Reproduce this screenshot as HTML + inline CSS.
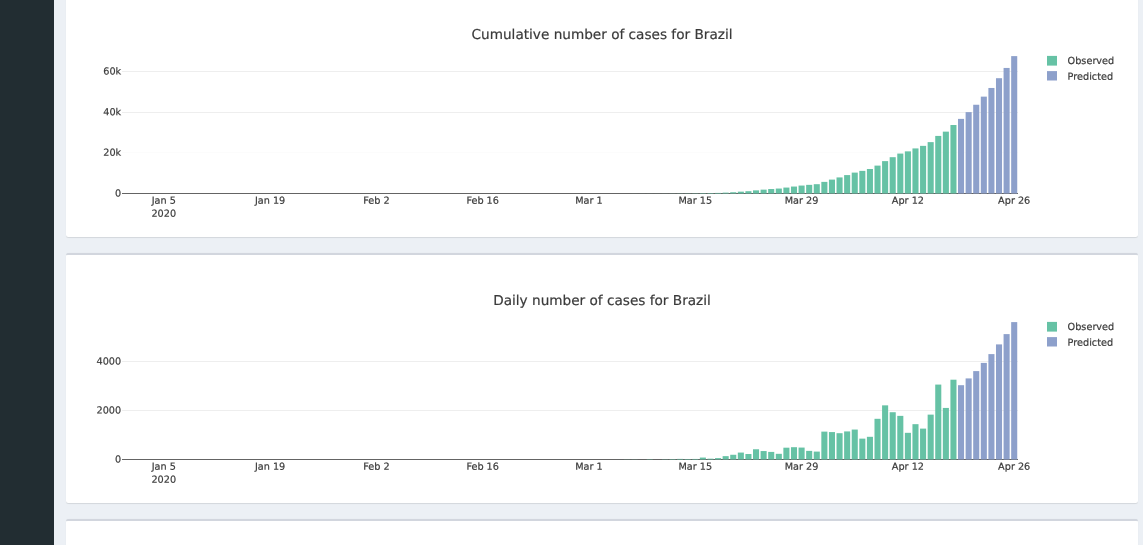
<!DOCTYPE html>
<html lang="en">
<head>
<meta charset="utf-8">
<title>Covid-19 forecast - Brazil</title>
<style>
html,body{margin:0;padding:0;}
body{width:1143px;height:545px;overflow:hidden;background:#ecf0f5;position:relative;
font-family:"DejaVu Sans","Liberation Sans",sans-serif;}
.sidebar{position:absolute;left:0;top:0;width:54px;height:545px;background:#222d32;}
.box{position:absolute;left:66px;width:1072.3px;height:248px;background:#fff;
border-top:2px solid #d2d6de;border-radius:2.5px;box-shadow:0 0.83px 0.83px rgba(0,0,0,0.1);}
svg{position:absolute;left:0;top:0;}
.tk{font-family:"DejaVu Sans","Liberation Sans",sans-serif;font-size:9.7px;fill:#3a3a3a;stroke:#3a3a3a;stroke-width:0.2px;}
.tt{font-family:"DejaVu Sans","Liberation Sans",sans-serif;font-size:13.64px;fill:#3a3a3a;stroke:#3a3a3a;stroke-width:0.2px;}
</style>
</head>
<body>
<div class="sidebar"></div>
<div class="box" style="top:-13px"></div>
<div class="box" style="top:253px"></div>
<div class="box" style="top:519px"></div>
<svg width="1143" height="545" viewBox="0 0 1143 545">
<g transform="translate(0,0)">
<line x1="122.0" x2="1018.0" y1="152.50" y2="152.50" stroke="#fcfcfc" stroke-width="1"/>
<line x1="122.0" x2="1018.0" y1="112.50" y2="112.50" stroke="#eeeeee" stroke-width="1"/>
<line x1="122.0" x2="1018.0" y1="71.50" y2="71.50" stroke="#eeeeee" stroke-width="1"/>
<line x1="122.0" x2="1018.0" y1="193.50" y2="193.50" stroke="#444444" stroke-width="0.83"/>
<rect x="631.51" y="193.47" width="6.07" height="0.03" fill="#66c2a5"/>
<rect x="639.10" y="193.47" width="6.07" height="0.03" fill="#66c2a5"/>
<rect x="646.69" y="193.45" width="6.07" height="0.05" fill="#66c2a5"/>
<rect x="654.28" y="193.45" width="6.07" height="0.05" fill="#66c2a5"/>
<rect x="661.88" y="193.43" width="6.07" height="0.07" fill="#66c2a5"/>
<rect x="669.47" y="193.39" width="6.07" height="0.11" fill="#66c2a5"/>
<rect x="677.06" y="193.34" width="6.07" height="0.16" fill="#66c2a5"/>
<rect x="684.66" y="193.30" width="6.07" height="0.20" fill="#66c2a5"/>
<rect x="692.25" y="193.25" width="6.07" height="0.25" fill="#66c2a5"/>
<rect x="699.84" y="193.09" width="6.07" height="0.41" fill="#66c2a5"/>
<rect x="707.44" y="193.02" width="6.07" height="0.48" fill="#66c2a5"/>
<rect x="715.03" y="192.91" width="6.07" height="0.59" fill="#66c2a5"/>
<rect x="722.62" y="192.63" width="6.07" height="0.87" fill="#66c2a5"/>
<rect x="730.22" y="192.24" width="6.07" height="1.26" fill="#66c2a5"/>
<rect x="737.81" y="191.66" width="6.07" height="1.84" fill="#66c2a5"/>
<rect x="745.40" y="191.21" width="6.07" height="2.29" fill="#66c2a5"/>
<rect x="753.00" y="190.36" width="6.07" height="3.14" fill="#66c2a5"/>
<rect x="760.59" y="189.65" width="6.07" height="3.85" fill="#66c2a5"/>
<rect x="768.18" y="189.02" width="6.07" height="4.48" fill="#66c2a5"/>
<rect x="775.78" y="188.55" width="6.07" height="4.95" fill="#66c2a5"/>
<rect x="783.37" y="187.57" width="6.07" height="5.93" fill="#66c2a5"/>
<rect x="790.96" y="186.55" width="6.07" height="6.95" fill="#66c2a5"/>
<rect x="798.56" y="185.56" width="6.07" height="7.94" fill="#66c2a5"/>
<rect x="806.15" y="184.85" width="6.07" height="8.65" fill="#66c2a5"/>
<rect x="813.74" y="184.19" width="6.07" height="9.31" fill="#66c2a5"/>
<rect x="821.34" y="181.88" width="6.07" height="11.62" fill="#66c2a5"/>
<rect x="828.93" y="179.60" width="6.07" height="13.90" fill="#66c2a5"/>
<rect x="836.52" y="177.42" width="6.07" height="16.08" fill="#66c2a5"/>
<rect x="844.12" y="175.09" width="6.07" height="18.41" fill="#66c2a5"/>
<rect x="851.71" y="172.60" width="6.07" height="20.90" fill="#66c2a5"/>
<rect x="859.30" y="170.87" width="6.07" height="22.63" fill="#66c2a5"/>
<rect x="866.89" y="168.99" width="6.07" height="24.51" fill="#66c2a5"/>
<rect x="874.49" y="165.61" width="6.07" height="27.89" fill="#66c2a5"/>
<rect x="882.08" y="161.12" width="6.07" height="32.38" fill="#66c2a5"/>
<rect x="889.67" y="157.19" width="6.07" height="36.31" fill="#66c2a5"/>
<rect x="897.27" y="153.57" width="6.07" height="39.93" fill="#66c2a5"/>
<rect x="904.86" y="151.36" width="6.07" height="42.14" fill="#66c2a5"/>
<rect x="912.45" y="148.42" width="6.07" height="45.08" fill="#66c2a5"/>
<rect x="920.05" y="145.86" width="6.07" height="47.64" fill="#66c2a5"/>
<rect x="927.64" y="142.13" width="6.07" height="51.37" fill="#66c2a5"/>
<rect x="935.23" y="135.92" width="6.07" height="57.58" fill="#66c2a5"/>
<rect x="942.83" y="131.64" width="6.07" height="61.86" fill="#66c2a5"/>
<rect x="950.42" y="125.01" width="6.07" height="68.49" fill="#66c2a5"/>
<rect x="958.01" y="118.88" width="6.07" height="74.62" fill="#8da0cb"/>
<rect x="965.61" y="112.11" width="6.07" height="81.39" fill="#8da0cb"/>
<rect x="973.20" y="104.75" width="6.07" height="88.75" fill="#8da0cb"/>
<rect x="980.79" y="96.63" width="6.07" height="96.87" fill="#8da0cb"/>
<rect x="988.39" y="87.97" width="6.07" height="105.53" fill="#8da0cb"/>
<rect x="995.98" y="78.21" width="6.07" height="115.29" fill="#8da0cb"/>
<rect x="1003.57" y="67.94" width="6.07" height="125.56" fill="#8da0cb"/>
<rect x="1011.17" y="56.11" width="6.07" height="137.39" fill="#8da0cb"/>
<text class="tk" x="121.20" y="196.50" text-anchor="end" transform="rotate(0.03 121.20 196.50)">0</text>
<text class="tk" x="121.20" y="155.83" text-anchor="end" transform="rotate(0.03 121.20 155.83)">20k</text>
<text class="tk" x="121.20" y="115.17" text-anchor="end" transform="rotate(0.03 121.20 115.17)">40k</text>
<text class="tk" x="121.20" y="74.50" text-anchor="end" transform="rotate(0.03 121.20 74.50)">60k</text>
<text class="tk" x="163.76" y="203.70" text-anchor="middle" transform="rotate(0.03 163.76 203.70)">Jan 5</text>
<text class="tk" x="270.07" y="203.70" text-anchor="middle" transform="rotate(0.03 270.07 203.70)">Jan 19</text>
<text class="tk" x="376.37" y="203.70" text-anchor="middle" transform="rotate(0.03 376.37 203.70)">Feb 2</text>
<text class="tk" x="482.68" y="203.70" text-anchor="middle" transform="rotate(0.03 482.68 203.70)">Feb 16</text>
<text class="tk" x="588.98" y="203.70" text-anchor="middle" transform="rotate(0.03 588.98 203.70)">Mar 1</text>
<text class="tk" x="695.29" y="203.70" text-anchor="middle" transform="rotate(0.03 695.29 203.70)">Mar 15</text>
<text class="tk" x="801.59" y="203.70" text-anchor="middle" transform="rotate(0.03 801.59 203.70)">Mar 29</text>
<text class="tk" x="907.90" y="203.70" text-anchor="middle" transform="rotate(0.03 907.90 203.70)">Apr 12</text>
<text class="tk" x="1014.20" y="203.70" text-anchor="middle" transform="rotate(0.03 1014.20 203.70)">Apr 26</text>
<text class="tk" x="163.76" y="216.70" text-anchor="middle" transform="rotate(0.03 163.76 216.70)">2020</text>
<text class="tt" x="602.00" y="39.00" text-anchor="middle" transform="rotate(0.03 602.00 39.00)">Cumulative number of cases for Brazil</text>
<rect x="1047" y="55.9" width="10" height="9.7" fill="#66c2a5"/>
<rect x="1047" y="71.1" width="10" height="9.4" fill="#8da0cb"/>
<text class="tk" x="1067.60" y="63.90" transform="rotate(0.03 1067.60 63.90)">Observed</text>
<text class="tk" x="1067.60" y="79.80" transform="rotate(0.03 1067.60 79.80)">Predicted</text>
</g>
<g transform="translate(0,266)">
<line x1="122.0" x2="1018.0" y1="144.50" y2="144.50" stroke="#eeeeee" stroke-width="1"/>
<line x1="122.0" x2="1018.0" y1="95.50" y2="95.50" stroke="#eeeeee" stroke-width="1"/>
<line x1="122.0" x2="1018.0" y1="193.50" y2="193.50" stroke="#444444" stroke-width="0.83"/>
<rect x="555.57" y="193.48" width="6.07" height="0.02" fill="#66c2a5"/>
<rect x="585.95" y="193.48" width="6.07" height="0.02" fill="#66c2a5"/>
<rect x="616.32" y="193.48" width="6.07" height="0.02" fill="#66c2a5"/>
<rect x="623.91" y="193.38" width="6.07" height="0.12" fill="#66c2a5"/>
<rect x="631.51" y="193.38" width="6.07" height="0.12" fill="#66c2a5"/>
<rect x="646.69" y="193.21" width="6.07" height="0.29" fill="#66c2a5"/>
<rect x="661.88" y="193.28" width="6.07" height="0.22" fill="#66c2a5"/>
<rect x="669.47" y="193.06" width="6.07" height="0.44" fill="#66c2a5"/>
<rect x="677.06" y="192.89" width="6.07" height="0.61" fill="#66c2a5"/>
<rect x="684.66" y="192.99" width="6.07" height="0.51" fill="#66c2a5"/>
<rect x="692.25" y="192.94" width="6.07" height="0.56" fill="#66c2a5"/>
<rect x="699.84" y="191.56" width="6.07" height="1.94" fill="#66c2a5"/>
<rect x="707.44" y="192.67" width="6.07" height="0.83" fill="#66c2a5"/>
<rect x="715.03" y="192.10" width="6.07" height="1.40" fill="#66c2a5"/>
<rect x="722.62" y="190.14" width="6.07" height="3.36" fill="#66c2a5"/>
<rect x="730.22" y="188.77" width="6.07" height="4.73" fill="#66c2a5"/>
<rect x="737.81" y="186.57" width="6.07" height="6.93" fill="#66c2a5"/>
<rect x="745.40" y="188.01" width="6.07" height="5.49" fill="#66c2a5"/>
<rect x="753.00" y="183.26" width="6.07" height="10.24" fill="#66c2a5"/>
<rect x="760.59" y="185.05" width="6.07" height="8.45" fill="#66c2a5"/>
<rect x="768.18" y="185.91" width="6.07" height="7.60" fill="#66c2a5"/>
<rect x="775.78" y="187.82" width="6.07" height="5.68" fill="#66c2a5"/>
<rect x="783.37" y="181.69" width="6.07" height="11.81" fill="#66c2a5"/>
<rect x="790.96" y="181.20" width="6.07" height="12.30" fill="#66c2a5"/>
<rect x="798.56" y="181.57" width="6.07" height="11.93" fill="#66c2a5"/>
<rect x="806.15" y="184.88" width="6.07" height="8.62" fill="#66c2a5"/>
<rect x="813.74" y="185.59" width="6.07" height="7.91" fill="#66c2a5"/>
<rect x="821.34" y="165.62" width="6.07" height="27.88" fill="#66c2a5"/>
<rect x="828.93" y="166.08" width="6.07" height="27.42" fill="#66c2a5"/>
<rect x="836.52" y="167.19" width="6.07" height="26.31" fill="#66c2a5"/>
<rect x="844.12" y="165.42" width="6.07" height="28.08" fill="#66c2a5"/>
<rect x="851.71" y="163.56" width="6.07" height="29.94" fill="#66c2a5"/>
<rect x="859.30" y="172.63" width="6.07" height="20.87" fill="#66c2a5"/>
<rect x="866.89" y="170.81" width="6.07" height="22.69" fill="#66c2a5"/>
<rect x="874.49" y="152.81" width="6.07" height="40.69" fill="#66c2a5"/>
<rect x="882.08" y="139.35" width="6.07" height="54.15" fill="#66c2a5"/>
<rect x="889.67" y="146.22" width="6.07" height="47.29" fill="#66c2a5"/>
<rect x="897.27" y="149.87" width="6.07" height="43.63" fill="#66c2a5"/>
<rect x="904.86" y="166.82" width="6.07" height="26.68" fill="#66c2a5"/>
<rect x="912.45" y="158.17" width="6.07" height="35.33" fill="#66c2a5"/>
<rect x="920.05" y="162.61" width="6.07" height="30.89" fill="#66c2a5"/>
<rect x="927.64" y="148.62" width="6.07" height="44.88" fill="#66c2a5"/>
<rect x="935.23" y="118.58" width="6.07" height="74.92" fill="#66c2a5"/>
<rect x="942.83" y="141.93" width="6.07" height="51.57" fill="#66c2a5"/>
<rect x="950.42" y="113.70" width="6.07" height="79.80" fill="#66c2a5"/>
<rect x="958.01" y="119.19" width="6.07" height="74.31" fill="#8da0cb"/>
<rect x="965.61" y="112.41" width="6.07" height="81.09" fill="#8da0cb"/>
<rect x="973.20" y="105.10" width="6.07" height="88.40" fill="#8da0cb"/>
<rect x="980.79" y="96.90" width="6.07" height="96.60" fill="#8da0cb"/>
<rect x="988.39" y="88.10" width="6.07" height="105.40" fill="#8da0cb"/>
<rect x="995.98" y="78.40" width="6.07" height="115.10" fill="#8da0cb"/>
<rect x="1003.57" y="68.11" width="6.07" height="125.39" fill="#8da0cb"/>
<rect x="1011.17" y="56.10" width="6.07" height="137.40" fill="#8da0cb"/>
<text class="tk" x="121.20" y="196.50" text-anchor="end" transform="rotate(0.03 121.20 196.50)">0</text>
<text class="tk" x="121.20" y="147.50" text-anchor="end" transform="rotate(0.03 121.20 147.50)">2000</text>
<text class="tk" x="121.20" y="98.50" text-anchor="end" transform="rotate(0.03 121.20 98.50)">4000</text>
<text class="tk" x="163.76" y="203.70" text-anchor="middle" transform="rotate(0.03 163.76 203.70)">Jan 5</text>
<text class="tk" x="270.07" y="203.70" text-anchor="middle" transform="rotate(0.03 270.07 203.70)">Jan 19</text>
<text class="tk" x="376.37" y="203.70" text-anchor="middle" transform="rotate(0.03 376.37 203.70)">Feb 2</text>
<text class="tk" x="482.68" y="203.70" text-anchor="middle" transform="rotate(0.03 482.68 203.70)">Feb 16</text>
<text class="tk" x="588.98" y="203.70" text-anchor="middle" transform="rotate(0.03 588.98 203.70)">Mar 1</text>
<text class="tk" x="695.29" y="203.70" text-anchor="middle" transform="rotate(0.03 695.29 203.70)">Mar 15</text>
<text class="tk" x="801.59" y="203.70" text-anchor="middle" transform="rotate(0.03 801.59 203.70)">Mar 29</text>
<text class="tk" x="907.90" y="203.70" text-anchor="middle" transform="rotate(0.03 907.90 203.70)">Apr 12</text>
<text class="tk" x="1014.20" y="203.70" text-anchor="middle" transform="rotate(0.03 1014.20 203.70)">Apr 26</text>
<text class="tk" x="163.76" y="216.70" text-anchor="middle" transform="rotate(0.03 163.76 216.70)">2020</text>
<text class="tt" x="602.00" y="39.00" text-anchor="middle" transform="rotate(0.03 602.00 39.00)">Daily number of cases for Brazil</text>
<rect x="1047" y="55.9" width="10" height="9.7" fill="#66c2a5"/>
<rect x="1047" y="71.1" width="10" height="9.4" fill="#8da0cb"/>
<text class="tk" x="1067.60" y="63.90" transform="rotate(0.03 1067.60 63.90)">Observed</text>
<text class="tk" x="1067.60" y="79.80" transform="rotate(0.03 1067.60 79.80)">Predicted</text>
</g>
</svg>
</body>
</html>
